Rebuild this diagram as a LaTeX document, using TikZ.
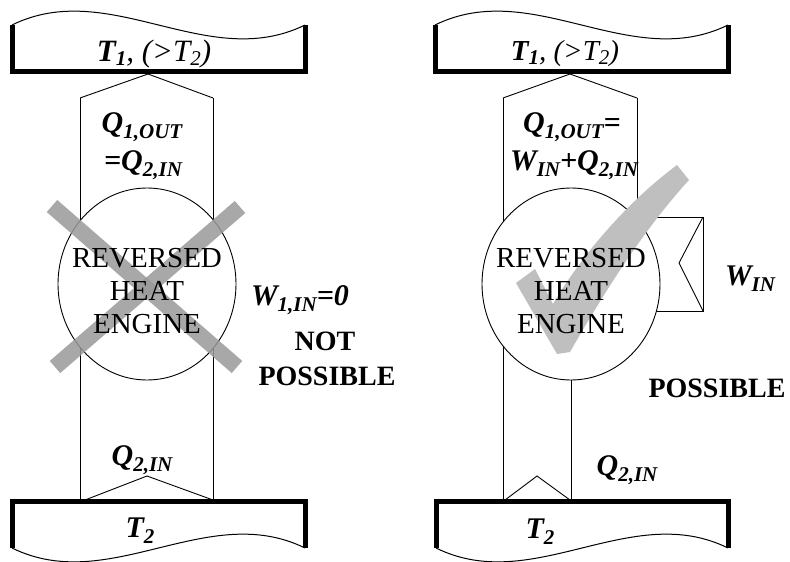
\documentclass[tikz,border=0pt]{standalone}
\usepackage{fontspec}
\setmainfont{Liberation Serif}
\usetikzlibrary{shapes.geometric}
\newcommand\lsub[2][21]{\raisebox{-6pt}{\fontsize{#1pt}{#1pt}\selectfont #2}}
\newcommand\tsub[1]{\raisebox{-4pt}{\fontsize{21pt}{21pt}\selectfont #1}}
\tikzset{
  thinln/.style={line width=0.9pt},
  resv/.style={line width=5pt, line join=miter},
  wave/.style={line width=1pt},
  lab/.style={font=\fontsize{30pt}{30pt}\selectfont\bfseries\itshape, inner sep=0pt, anchor=base},
  big/.style={font=\fontsize{28pt}{30pt}\selectfont\bfseries, inner sep=0pt, anchor=base},
  eng/.style={ellipse, draw, fill=white, line width=0.9pt, minimum width=178pt, minimum height=192pt, inner sep=0pt},
  engtext/.style={align=center, inner sep=0pt, font=\fontsize{29pt}{33pt}\selectfont},
  xband/.style={line width=16pt, draw=black!40, opacity=0.85},
  tick/.style={fill=black!25, draw=none}
}
\begin{document}
\begin{tikzpicture}[x=1pt,y=-1pt]
\useasboundingbox (0,0) rectangle (790,562);
% ---------- left diagram ----------
\draw[wave] (12,25) .. controls (109.7,-23) and (207.3,73) .. (305,25);
\draw[resv] (12,25) -- (12,71) -- (305,71) -- (305,25);
\draw[wave] (12,548) .. controls (109.7,596) and (207.3,500) .. (305,548);
\draw[resv] (12,548) -- (12,501) -- (305,501) -- (305,548);
\draw[thinln] (80,98) -- (148,74) -- (213,98);
\draw[thinln] (80,98) -- (80,500);
\draw[thinln] (213,98) -- (213,500);
\draw[thinln] (85,500) -- (147,476) -- (213,500);
\node[eng] (e1) at (147,284) {};
\draw[xband] (52,206) -- (237,367);
\draw[xband] (240,207) -- (55,367);
\node[engtext] (t1) at (147,291) {REVERSED\\HEAT\\ENGINE};
% ---------- right diagram ----------
\draw[wave] (435,25) .. controls (532.7,-23) and (630.3,73) .. (728,25);
\draw[resv] (435,25) -- (435,71) -- (728,71) -- (728,25);
\draw[wave] (436,548) .. controls (533.3,596) and (630.7,500) .. (728,548);
\draw[resv] (436,548) -- (436,501) -- (728,501) -- (728,548);
\draw[thinln] (503,98) -- (570,74) -- (637,98);
\draw[thinln] (503,98) -- (503,500);
\draw[thinln] (637,98) -- (637,240);
\draw[thinln] (640,217) -- (703,217) -- (703,311) -- (640,311);
\draw[thinln] (703,217) -- (679,263) -- (703,311);
\node[eng] (e2) at (571,284) {};
\draw[thinln] (e2.south) -- (571,500);
\draw[thinln] (505,500) -- (537,476) -- (570,500);
\draw[tick] (557,354) -- (516,283) -- (535,269) -- (553,304)
  .. controls (585,250) and (630,200) .. (677,165) -- (689,180)
  .. controls (648,225) and (610,282) .. (570,352) -- cycle;
\node[engtext] (t2) at (571,291) {REVERSED\\HEAT\\ENGINE};
% ---------- labels ----------
\node[lab, font=\fontsize{31pt}{31pt}\selectfont\bfseries\itshape] (t1l) at (154,61) {T\tsub{1}\mdseries, (>T\tsub{2})};
\node[lab, font=\fontsize{29pt}{29pt}\selectfont\bfseries\itshape] (t1r) at (565,60) {T\tsub{1}\mdseries, (>T\tsub{2})};
\node[lab] (q1l) at (142,132) {Q\lsub{1,OUT}};
\node[lab] (q2l) at (143,170) {=Q\lsub{2,IN}};
\node[lab] (q1r) at (572,132) {Q\lsub{1,OUT}=};
\node[lab] (q2r) at (574,170) {W\lsub{IN}+Q\lsub{2,IN}};
\node[lab] (w1) at (300,305) {W\lsub{1,IN}=0};
\node[lab] (wr) at (750,285) {W\lsub{IN}};
\node[big] (np1) at (325,350) {NOT};
\node[big] (np2) at (327,385) {POSSIBLE};
\node[big] (pr) at (717,397) {POSSIBLE};
\node[lab] (qbl) at (142,465) {Q\lsub{2,IN}};
\node[lab] (qbr) at (627,475) {Q\lsub{2,IN}};
\node[lab] (t2l) at (140,537) {T\lsub{2}};
\node[lab] (t2r) at (540,538) {T\lsub{2}};
\end{tikzpicture}
\end{document}
